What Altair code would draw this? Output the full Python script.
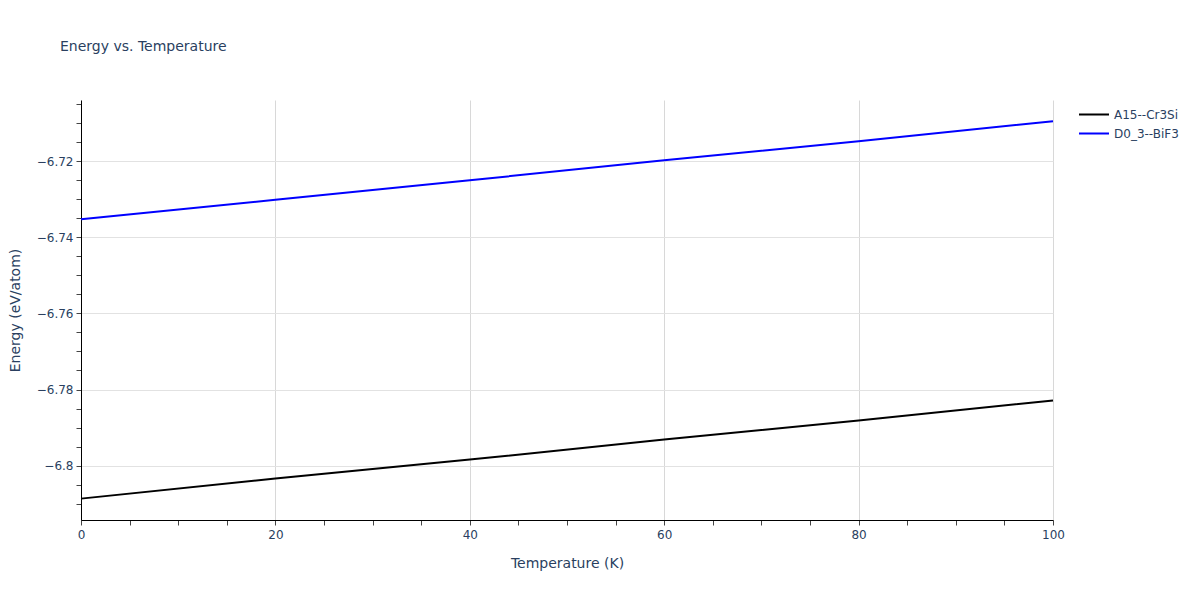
import altair as alt
import pandas as pd

temps = [0, 20, 40, 60, 80, 100]
a15_cr3si = [-6.80868, -6.80342, -6.79842, -6.79316, -6.78816, -6.78289]
d0_3_bif3 = [-6.73526, -6.73013, -6.72500, -6.71974, -6.71474, -6.70947]
series_names = ["A15--Cr3Si", "D0_3--BiF3"]
series_colors = ["#000000", "#0000ff"]

x_ticks = list(range(0, 101, 5))
y_ticks = [round(-6.81 + 0.005 * i, 3) for i in range(22)]

rows = []
for t, v in zip(temps, a15_cr3si):
    rows.append({"Temperature": t, "Energy": v, "series": series_names[0]})
for t, v in zip(temps, d0_3_bif3):
    rows.append({"Temperature": t, "Energy": v, "series": series_names[1]})
df = pd.DataFrame(rows)

text_color = "#2a3f5f"
font = "DejaVu Sans"

chart = alt.Chart(df).mark_line(strokeWidth=2).encode(
    x=alt.X(
        "Temperature:Q",
        scale=alt.Scale(domain=[0, 100], nice=False, zero=False),
        axis=alt.Axis(
            title="Temperature (K)",
            values=x_ticks,
            labelExpr="datum.value % 20 === 0 ? datum.label : ''",
            labelFlush=False,
            gridOpacity={"condition": {"test": "datum.value % 20 === 0", "value": 1}, "value": 0},
            gridColor="#d8d8d8",
            domainColor="#000000",
            tickColor="#444444",
            tickSize=5,
            labelPadding=4,
            titlePadding=16,
            labelFontSize=12,
            titleFontSize=14,
            titleFontWeight="normal",
            labelColor=text_color,
            titleColor=text_color,
            labelFont=font,
            titleFont=font,
        ),
    ),
    y=alt.Y(
        "Energy:Q",
        scale=alt.Scale(domain=[-6.8143, -6.7039], nice=False, zero=False),
        axis=alt.Axis(
            title="Energy (eV/atom)",
            values=y_ticks,
            labelExpr="abs(round(datum.value*1000)) % 20 === 0 ? format(datum.value, '.3~f') : ''",
            labelFlush=False,
            gridOpacity={"condition": {"test": "abs(round(datum.value*1000)) % 20 === 0", "value": 1}, "value": 0},
            gridColor="#e2e2e2",
            domainColor="#000000",
            tickColor="#444444",
            tickSize=5,
            labelPadding=3,
            titlePadding=14,
            labelFontSize=12,
            titleFontSize=14,
            titleFontWeight="normal",
            labelColor=text_color,
            titleColor=text_color,
            labelFont=font,
            titleFont=font,
        ),
    ),
    color=alt.Color(
        "series:N",
        scale=alt.Scale(domain=series_names, range=series_colors),
        legend=alt.Legend(
            title=None,
            orient="none",
            legendX=997,
            legendY=6,
            symbolType="stroke",
            symbolSize=900,
            symbolStrokeWidth=2,
            labelFontSize=12,
            labelColor=text_color,
            labelFont=font,
            clipHeight=17,
            rowPadding=2,
        ),
    ),
).properties(
    width=972,
    height=420,
    title=alt.TitleParams(
        "Energy vs. Temperature",
        anchor="start",
        frame="group",
        dx=-21,
        offset=46,
        fontSize=14,
        fontWeight="normal",
        color=text_color,
        font=font,
    ),
    autosize=alt.AutoSizeParams(type="none"),
    padding={"left": 73, "top": 92, "right": 130, "bottom": 60},
).configure_view(stroke=None)

chart.save("out.html", embed_options={"renderer": "svg", "actions": False})
